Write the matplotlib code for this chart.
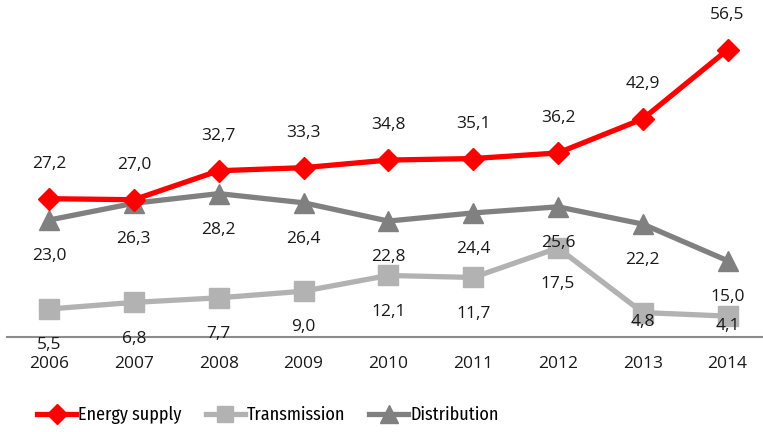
import matplotlib
matplotlib.use("Agg")
import matplotlib.pyplot as plt
from matplotlib.lines import Line2D

years = ["2006", "2007", "2008", "2009", "2010", "2011", "2012", "2013", "2014"]
energy_supply = [27.2, 27.0, 32.7, 33.3, 34.8, 35.1, 36.2, 42.9, 56.5]
transmission = [5.5, 6.8, 7.7, 9.0, 12.1, 11.7, 17.5, 4.8, 4.1]
distribution = [23.0, 26.3, 28.2, 26.4, 22.8, 24.4, 25.6, 22.2, 15.0]

plt.rcParams['font.family'] = ['Open Sans', 'DejaVu Sans']

fig = plt.figure(figsize=(7.63, 4.32), dpi=100)
ax = fig.add_axes([0.0087, 0.22, 1.0005, 0.706])

x = list(range(len(years)))
c_red = "#FF0000"
c_tr = "#B2B2B2"
c_di = "#808080"

ax.plot(x, transmission, color=c_tr, lw=3.8, marker="s", ms=14, zorder=3)
ax.plot(x, distribution, color=c_di, lw=3.8, marker="^", ms=15, zorder=4)
ax.plot(x, energy_supply, color=c_red, lw=3.8, marker="D", ms=11, zorder=5)

def fmt(v):
    return f"{v:.1f}".replace(".", ",")

lab_fs = 12.5
txt_c = "#1a1a1a"
for xi, v in zip(x, energy_supply):
    ax.annotate(fmt(v), (xi, v), xytext=(0, 25), textcoords="offset points",
                ha="center", va="center", fontsize=lab_fs, color=txt_c, zorder=6)
for xi, v in zip(x, distribution):
    ax.annotate(fmt(v), (xi, v), xytext=(0, -26), textcoords="offset points",
                ha="center", va="center", fontsize=lab_fs, color=txt_c, zorder=6)
# last two transmission labels sit closer to their points in the reference
tr_off = [-26, -26, -26, -26, -26, -26, -26, -7, -7]
for xi, v, off in zip(x, transmission, tr_off):
    ax.annotate(fmt(v), (xi, v), xytext=(0, off), textcoords="offset points",
                ha="center", va="center", fontsize=lab_fs, color=txt_c, zorder=6)

ax.set_xlim(-0.5, len(years) - 0.5)
ax.set_ylim(0, 60)
ax.set_xticks(x)
ax.set_xticklabels(years, fontsize=lab_fs, color=txt_c)
ax.tick_params(axis="x", length=0, pad=14)
ax.set_yticks([])
for s in ["top", "right", "left"]:
    ax.spines[s].set_visible(False)
ax.spines["bottom"].set_color("#8c8c8c")
ax.spines["bottom"].set_linewidth(1.5)
ax.patch.set_visible(False)

handles = [
    Line2D([], [], color=c_red, lw=3.8, marker="D", ms=10),
    Line2D([], [], color=c_tr, lw=3.8, marker="s", ms=12),
    Line2D([], [], color=c_di, lw=3.8, marker="^", ms=13),
]
leg = fig.legend(handles, ["Energy supply", "Transmission", "Distribution"],
                 loc="center", bbox_to_anchor=(268 / 763, 1 - 415 / 432),
                 ncol=3, frameon=False, handlelength=2.15,
                 handletextpad=0.1, columnspacing=1.35,
                 prop={'family': ['Fira Sans Condensed', 'DejaVu Sans'],
                       'weight': 'normal', 'size': 13})
for t in leg.get_texts():
    t.set_color("#000000")

fig.savefig("out.png", dpi=100)
